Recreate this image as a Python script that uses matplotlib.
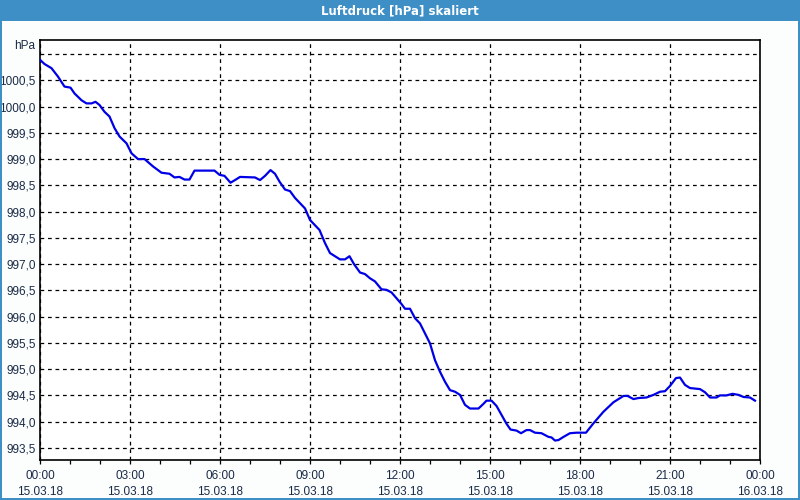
import matplotlib
matplotlib.use("Agg")
import matplotlib.pyplot as plt
import matplotlib.dates as mdates
from matplotlib.patches import Rectangle
from matplotlib.ticker import FixedLocator, FuncFormatter
import pandas as pd

title = "Luftdruck [hPa] skaliert"
unit = "hPa"

# minutes after 15.03.18 00:00
minutes = [0, 9, 23, 36, 49, 61, 69, 83, 93, 103, 111, 119, 129, 139, 149, 159, 173, 183,
           196, 209, 226, 243, 259, 269, 279, 289, 299, 309, 349, 359, 369, 381, 390, 400,
           430, 440, 450, 461, 470, 479, 490, 500, 510, 520, 530, 540, 550, 559, 570, 580,
           590, 600, 610, 619, 628, 640, 650, 660, 670, 683, 693, 703, 713, 723, 730, 740,
           750, 760, 770, 780, 790, 800, 810, 820, 830, 840, 850, 860, 877, 887, 893, 903,
           913, 923, 933, 941, 953, 962, 973, 980, 990, 1003, 1017, 1023, 1030, 1037, 1047,
           1060, 1073, 1092, 1107, 1127, 1147, 1167, 1175, 1187, 1197, 1213, 1227, 1240,
           1250, 1260, 1272, 1280, 1290, 1300, 1320, 1330, 1340, 1353, 1360, 1373, 1385,
           1397, 1407, 1420, 1430]
pressure = [1000.89, 1000.81, 1000.73, 1000.57, 1000.38, 1000.36, 1000.25, 1000.12, 1000.06,
            1000.06, 1000.09, 1000.03, 999.90, 999.81, 999.59, 999.43, 999.30, 999.11,
            999.00, 999.00, 998.86, 998.74, 998.72, 998.65, 998.66, 998.61, 998.61, 998.78,
            998.78, 998.70, 998.68, 998.55, 998.60, 998.66, 998.65, 998.60, 998.68, 998.79,
            998.72, 998.57, 998.42, 998.39, 998.26, 998.16, 998.06, 997.84, 997.74, 997.65,
            997.40, 997.21, 997.15, 997.09, 997.09, 997.15, 997.00, 996.84, 996.81, 996.73,
            996.67, 996.52, 996.51, 996.46, 996.35, 996.24, 996.15, 996.15, 995.97, 995.87,
            995.68, 995.49, 995.17, 994.95, 994.76, 994.60, 994.57, 994.51, 994.32, 994.25,
            994.25, 994.34, 994.40, 994.40, 994.30, 994.13, 993.96, 993.85, 993.83, 993.78,
            993.84, 993.84, 993.79, 993.78, 993.71, 993.70, 993.64, 993.65, 993.71, 993.78,
            993.79, 993.79, 993.97, 994.19, 994.37, 994.49, 994.49, 994.43, 994.45, 994.46,
            994.51, 994.57, 994.58, 994.68, 994.83, 994.84, 994.70, 994.64, 994.62, 994.56,
            994.46, 994.46, 994.50, 994.50, 994.53, 994.51, 994.47, 994.46, 994.40]

y_ticks = [993.5, 994.0, 994.5, 995.0, 995.5, 996.0, 996.5, 997.0, 997.5, 998.0, 998.5,
           999.0, 999.5, 1000.0, 1000.5, 1001.0]
y_min, y_max = 993.27, 1001.267

start = pd.Timestamp("2018-03-15 00:00")
end = pd.Timestamp("2018-03-16 00:00")
times = [start + pd.Timedelta(minutes=m) for m in minutes]

plt.rcParams["font.family"] = ["Liberation Sans", "DejaVu Sans"]

W, H = 800, 500
fig = plt.figure(figsize=(W / 100, H / 100), dpi=100)
fig.patch.set_facecolor("#fbfefd")

blue = "#3d8fc6"
# title bar and frame
fig.patches.append(Rectangle((0, 1 - 21 / H), 1, 21 / H, transform=fig.transFigure,
                             facecolor=blue, edgecolor="none", zorder=0))
fig.patches.append(Rectangle((0, 0), 2 / W, 1, transform=fig.transFigure,
                             facecolor=blue, edgecolor="none", zorder=0))
fig.patches.append(Rectangle((1 - 2 / W, 0), 2 / W, 1, transform=fig.transFigure,
                             facecolor=blue, edgecolor="none", zorder=0))
fig.patches.append(Rectangle((0, 0), 1, 2 / H, transform=fig.transFigure,
                             facecolor=blue, edgecolor="none", zorder=0))
fig.text(0.5, 1 - 10.5 / H, title, color="white", fontsize=8.5, fontweight="bold",
         ha="center", va="center", family=["DejaVu Sans"])

ax = fig.add_axes([40 / W, 40 / H, 720 / W, 420 / H])
ax.set_facecolor("white")
ax.plot(times, pressure, color="#0000e6", linewidth=1.6, zorder=3)

ax.set_xlim(start, end)
ax.set_ylim(y_min, y_max)

ax.xaxis.set_major_locator(mdates.HourLocator(byhour=range(0, 24, 3)))
ax.xaxis.set_minor_locator(mdates.HourLocator())
ax.xaxis.set_major_formatter(mdates.DateFormatter("%H:%M\n%d.%m.%y"))

ax.yaxis.set_major_locator(FixedLocator(y_ticks))
ax.yaxis.set_major_formatter(FuncFormatter(
    lambda v, p: "" if v > 1000.9 else f"{v:.1f}".replace(".", ",")))

ax.grid(True, which="major", color="black", linestyle=(0, (3, 3)), linewidth=0.9)
for s in ax.spines.values():
    s.set_color("black")
    s.set_linewidth(1.2)

label_color = "#1b2a47"
ax.tick_params(axis="x", which="both", direction="out", length=3, width=0.9,
               colors="black", labelcolor=label_color, labelsize=8.5, pad=4)
ax.tick_params(axis="y", which="both", length=0, labelcolor=label_color,
               labelsize=8.5, pad=3)
for lbl in ax.get_xticklabels():
    lbl.set_linespacing(1.5)

fig.text(35 / W, 1 - 46 / H, unit, color=label_color, fontsize=8.5, ha="right", va="center")

fig.savefig("out.png", dpi=100, facecolor=fig.get_facecolor())
